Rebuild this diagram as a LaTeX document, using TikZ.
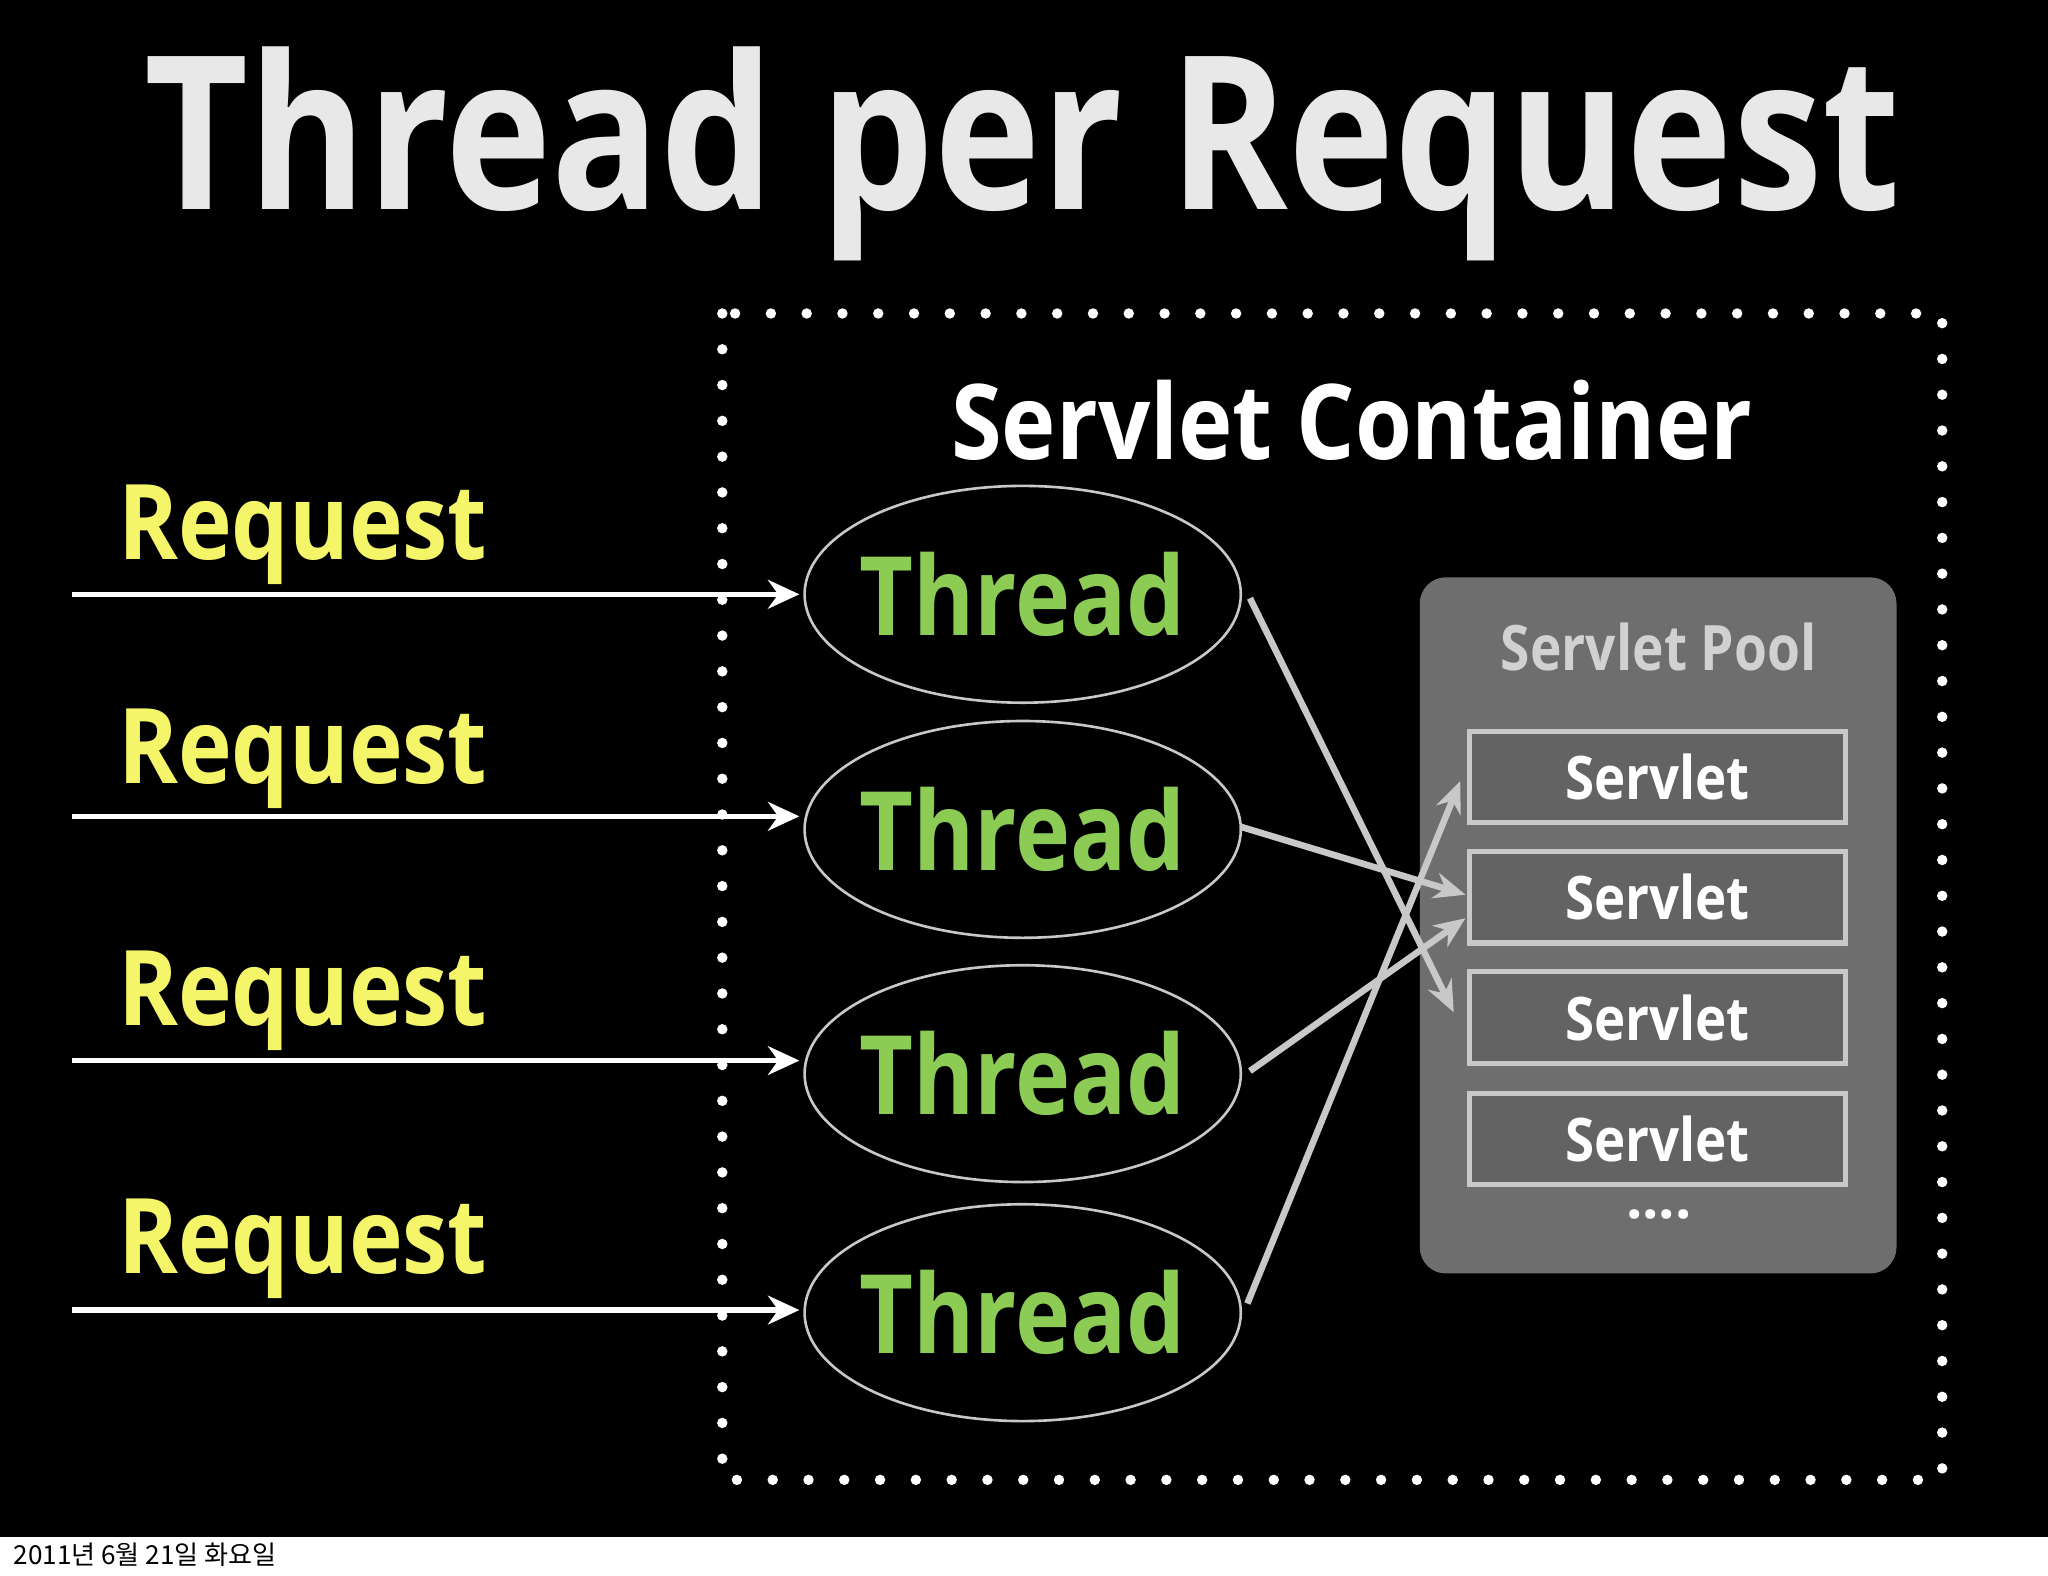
\documentclass[tikz,border=0pt]{standalone}
\usepackage{fontspec}
\setmainfont{Open Sans}
\newfontfamily\kr{Noto Sans CJK KR}
\usetikzlibrary{arrows.meta,shapes.geometric}
\definecolor{ttl}{HTML}{E8E8E8}
\definecolor{req}{HTML}{F5F56A}
\definecolor{thr}{HTML}{8CCC55}
\definecolor{pool}{HTML}{6E6E6E}
\definecolor{lg}{HTML}{C8C8C8}
\tikzset{
 reqtxt/.style={anchor=base west,text=req,font=\fontsize{40}{40}\selectfont\bfseries,inner sep=0pt,xscale=0.87},
 reqarrow/.style={white,line width=2pt,-{Stealth[length=12pt,width=11pt]}},
 thread/.style={ellipse,draw=lg,line width=1pt,inner sep=0pt,minimum width=167pt,minimum height=83pt},
 threadtxt/.style={text=thr,font=\fontsize{42}{42}\selectfont\bfseries,xscale=0.85},
 servlet/.style={draw=lg,line width=2pt,fill=pool!90!black,minimum width=144pt,minimum height=35pt,inner sep=0pt},
 servtxt/.style={text=white,font=\fontsize{23}{23}\selectfont\bfseries,xscale=0.88},
 link/.style={lg,line width=2.5pt,-{Stealth[length=12pt,width=10pt]}}
}
\begin{document}
\begin{tikzpicture}[x=0.5pt,y=-0.5pt]
\useasboundingbox (0,0) rectangle (1568,1206);
\fill[black] (0,0) rectangle (1568,1177);
\node[text=ttl,font=\fontsize{82}{82}\selectfont\bfseries,xscale=0.84] (title) at (783,118) {Thread per Request};
\draw[white,line width=4pt,line cap=round,dash pattern=on 0pt off 13.7pt] (553,240) rectangle (1487,1133);
\node[text=white,font=\fontsize{40}{40}\selectfont\bfseries,xscale=0.88] (sc) at (1035,322) {Servlet Container};
\fill[pool,rounded corners=10pt] (1087,442) rectangle (1452,975);
\node[text=ttl!90!black,font=\fontsize{24}{24}\selectfont\bfseries,xscale=0.85] (sp) at (1270,495) {Servlet Pool};
\foreach \i/\y in {1/595,2/687,3/779,4/872}{
 \node[servlet] (s\i) at (1269,\y) {};
 \node[servtxt] at (s\i) {Servlet};
}
\node[text=white,font=\fontsize{22}{22}\selectfont\bfseries] (dots) at (1270,930) {....};
\foreach \i/\y/\b in {1/455/428,2/635/600,3/822/785,4/1005/975}{
 \node[thread] (t\i) at (783,\y) {};
 \node[threadtxt] at (783,\y) {Thread};
 \node[reqtxt] (r\i) at (90,\b) {Request};
}
\foreach \i/\y in {1/455,2/625,3/812,4/1003}{
 \coordinate (a\i) at (55,\y);
 \coordinate (b\i) at (612,\y);
 \draw[reqarrow] (a\i) -- (b\i);
}
\coordinate (e1) at (957,458);
\coordinate (e2) at (950,633);
\coordinate (e3) at (957,820);
\coordinate (e4) at (955,998);
\coordinate (d1) at (1113,775);
\coordinate (d2) at (1122,685);
\coordinate (d3) at (1122,703);
\coordinate (d4) at (1118,598);
\foreach \i in {1,...,4}{\draw[link] (e\i) -- (d\i);}
\node[anchor=west,font=\kr\fontsize{10}{10}\selectfont,text=black,inner sep=0pt] (date) at (10,1190) {2011년 6월 21일 화요일};
\end{tikzpicture}
\end{document}
